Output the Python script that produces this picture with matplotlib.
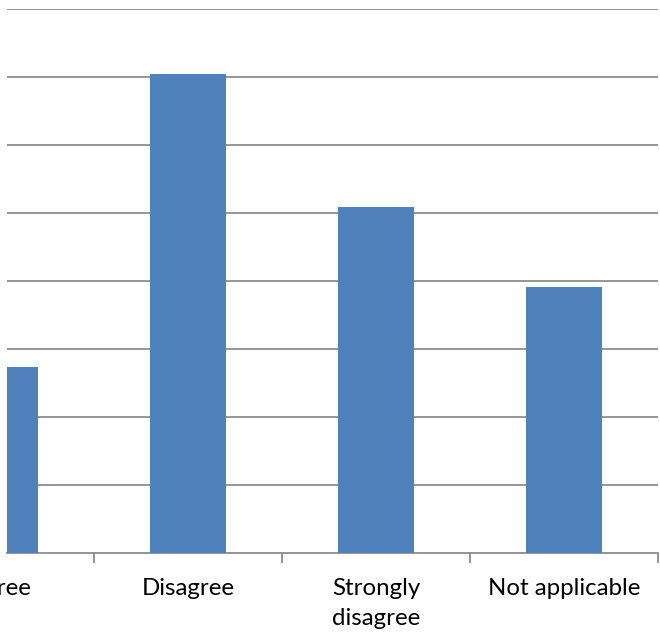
import matplotlib.pyplot as plt

categories = ['Agree', 'Disagree', 'Strongly\ndisagree', 'Not applicable']
values = [2.74, 7.04, 5.09, 3.91]
grid_levels = [1, 2, 3, 4, 5, 6, 7, 8]

W, H = 660, 642
fig = plt.figure(figsize=(W / 100, H / 100), dpi=100)
# plot area is cropped on the left, like the source picture
ax = fig.add_axes([7 / W, (H - 553) / H, 651 / W, 544 / H])

positions = list(range(len(categories)))
ax.bar(positions, values, width=0.405, color='#4f81bd', zorder=3)

ax.set_xlim(0.037, 3.5)
ax.set_ylim(0, 8)

# horizontal gridlines
for g in grid_levels:
    ax.axhline(g, color='#8c8c8c', linewidth=1.3, zorder=1)

for side in ['top', 'right', 'left']:
    ax.spines[side].set_visible(False)
ax.spines['bottom'].set_color('#8c8c8c')
ax.spines['bottom'].set_linewidth(1.3)

ax.set_yticks([])
ax.set_xticks([0.5, 1.5, 2.5, 3.5])
ax.set_xticklabels([])
ax.tick_params(axis='x', length=7, width=1.3, color='#8c8c8c')

# category labels, first one partly outside the figure
for x, label in zip(positions, categories):
    ax.text(x, -0.37, label, ha='center', va='top', fontsize=17.3,
            family='Lato', linespacing=1.5, clip_on=False)

fig.savefig('out.png', dpi=100)
